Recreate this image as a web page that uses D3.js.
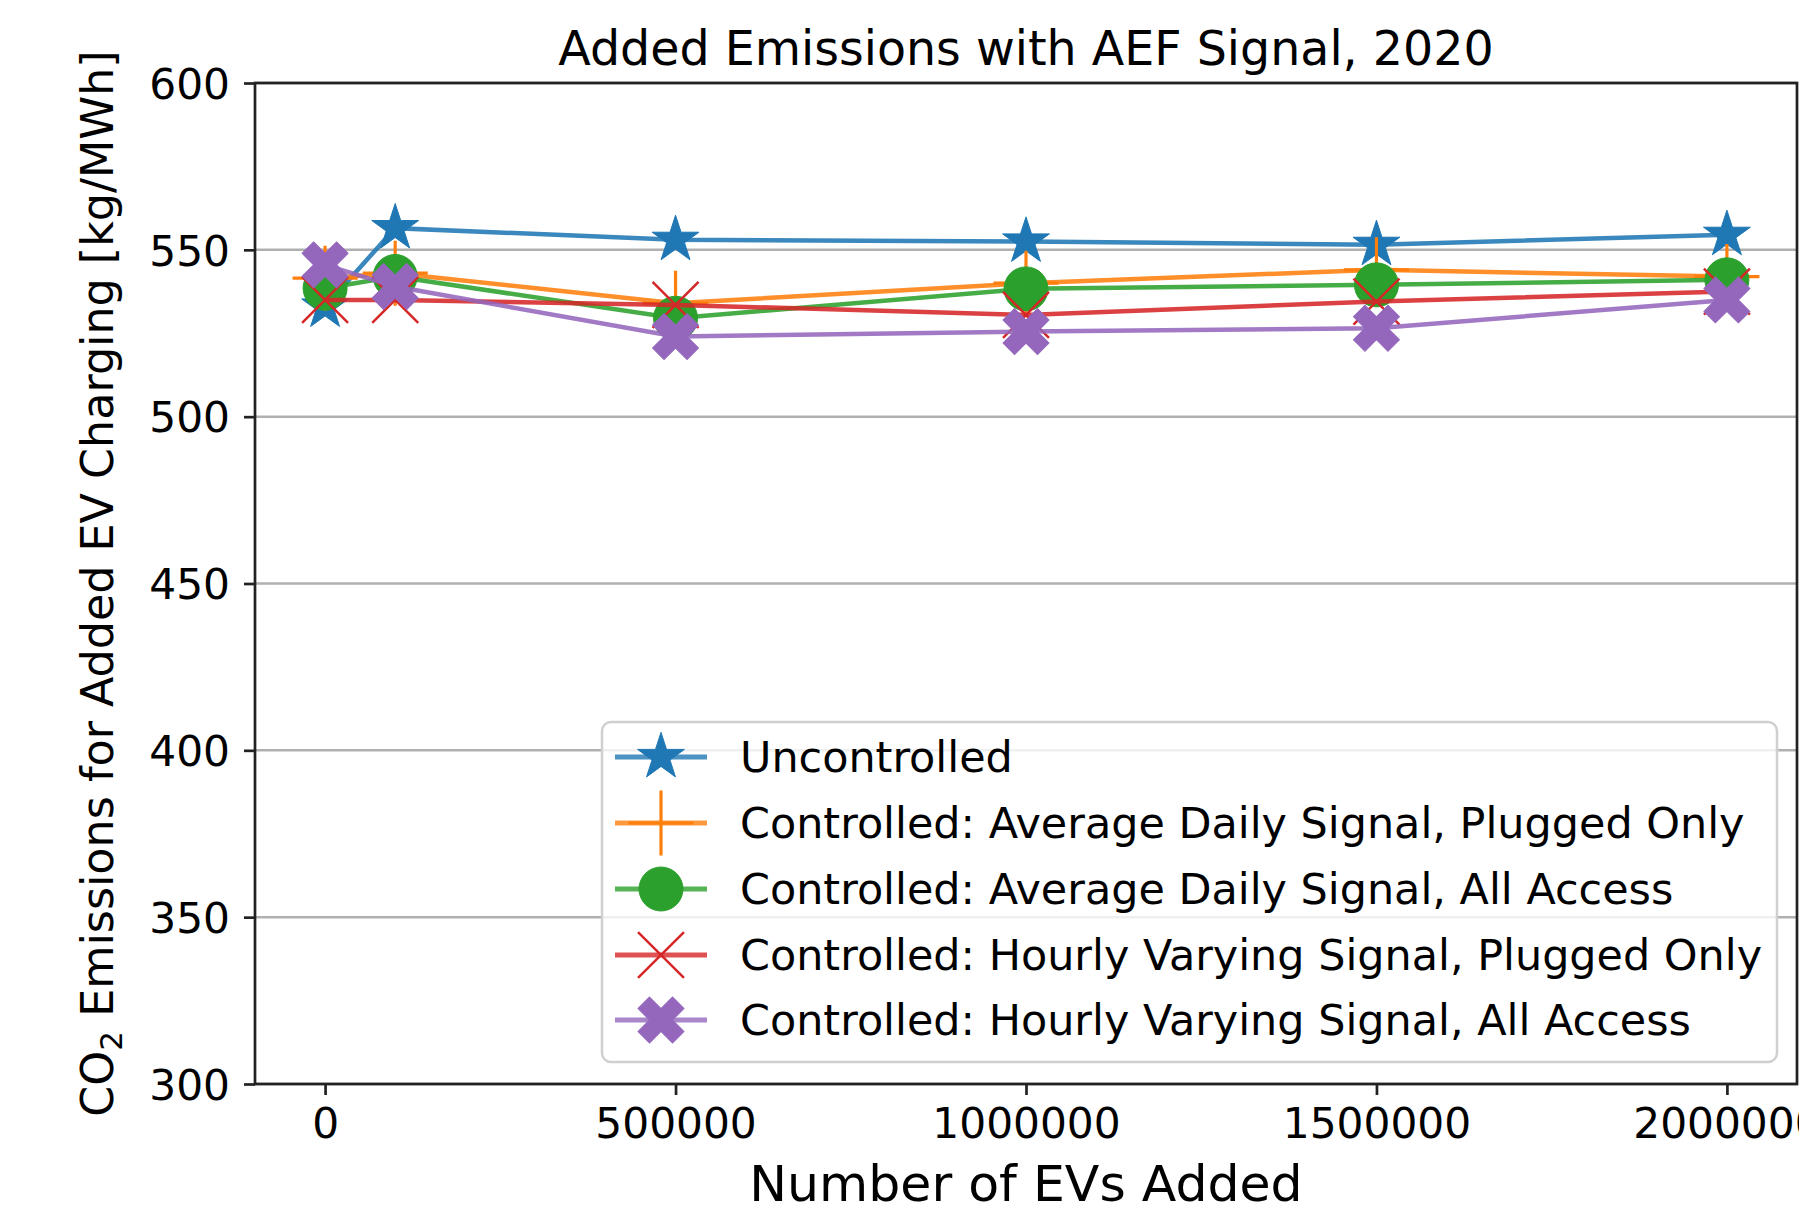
<!DOCTYPE html>
<html>
<head>
<meta charset="utf-8">
<script src="https://cdn.jsdelivr.net/npm/d3@7"></script>
<style>
  body { margin: 0; background: #fff; }
  text { font-family: "DejaVu Sans", sans-serif; fill: #000; }
</style>
</head>
<body>
<svg></svg>
<script>
// data
var evsAdded = [0, 100000, 500000, 1000000, 1500000, 2000000];
var uncontrolled = [533, 556.5, 553, 552.5, 551.5, 554.5];
var avgDailyPlugged = [541.5, 543, 534, 540, 544, 542];
var avgDailyAll = [538.5, 542, 529.5, 538.3, 539.5, 541];
var hourlyPlugged = [535, 535, 533.5, 530.5, 534.5, 537.5];
var hourlyAll = [545.5, 539, 524, 525.5, 526.5, 535];

var seriesNames = [
    "Uncontrolled",
    "Controlled: Average Daily Signal, Plugged Only",
    "Controlled: Average Daily Signal, All Access",
    "Controlled: Hourly Varying Signal, Plugged Only",
    "Controlled: Hourly Varying Signal, All Access"
];
var xTicks = [0, 500000, 1000000, 1500000, 2000000];
var yTicks = [300, 350, 400, 450, 500, 550, 600];

var colors = ["#1f77b4", "#ff7f0e", "#2ca02c", "#d62728", "#9467bd"];

var width = 1799;
var height = 1215;
var margin = {left: 255, right: 2, top: 83, bottom: 131};

var series = [uncontrolled, avgDailyPlugged, avgDailyAll, hourlyPlugged, hourlyAll].map(function(vals, i) {
    return {
        name: seriesNames[i],
        color: colors[i],
        points: vals.map((v, j) => ({x: evsAdded[j], y: v}))
    };
});

// marker shapes, filled ones use fill, thin ones use stroke
var markers = [
    {type: d3.symbolStar, size: 680, filled: true},
    {type: d3.symbolPlus, size: 1383, filled: false, sw: 3.2},
    {type: d3.symbolCircle, size: 1520, filled: true},
    {type: d3.symbolX, size: 1381, filled: false, sw: 2.5},
    {type: d3.symbolCross, size: 1322, filled: true, rotate: 45}
];

var svg = d3.select("svg")
    .attr("width", width)
    .attr("height", height);

var x = d3.scaleLinear()
    .domain([-100000, 2100000])
    .range([margin.left, width - margin.right]);

var y = d3.scaleLinear()
    .domain([300, 600])
    .range([height - margin.bottom, margin.top]);

// horizontal grid
svg.append("g")
    .selectAll("line")
    .data(yTicks)
    .enter()
    .append("line")
        .attr("x1", x.range()[0])
        .attr("x2", x.range()[1])
        .attr("y1", d => y(d))
        .attr("y2", d => y(d))
        .attr("stroke", "#b0b0b0")
        .attr("stroke-width", 2.5);

// axes
var xAxis = svg.append("g")
    .attr("transform", "translate(0," + y.range()[0] + ")")
    .call(d3.axisBottom(x).tickValues(xTicks).tickFormat(d3.format("d")).tickSize(11).tickPadding(10));

var yAxis = svg.append("g")
    .attr("transform", "translate(" + x.range()[0] + ",0)")
    .call(d3.axisLeft(y).tickValues(yTicks).tickSize(11).tickPadding(14));

[xAxis, yAxis].forEach(function(ax) {
    ax.select(".domain").remove();
    ax.selectAll(".tick line").attr("stroke", "#222").attr("stroke-width", 2.7);
    ax.selectAll(".tick text")
        .style("font-family", "DejaVu Sans")
        .style("font-size", "42.3px")
        .attr("fill", "#000");
});
xAxis.selectAll(".tick text").attr("dy", "0.78em");
yAxis.selectAll(".tick text").attr("dy", "0.36em");

// lines and markers, one series after another
var line = d3.line()
    .x(d => x(d.x))
    .y(d => y(d.y));

var symbolPath = function(m) {
    return d3.symbol().type(m.type).size(m.size)();
};

series.forEach(function(s, i) {
    var m = markers[i];
    var g = svg.append("g").classed("series", true);
    g.append("path")
        .attr("d", line(s.points))
        .attr("fill", "none")
        .attr("stroke", s.color)
        .attr("stroke-opacity", 0.88)
        .attr("stroke-width", 4.5);
    g.selectAll(".mark")
        .data(s.points)
        .enter()
        .append("path")
            .classed("mark", true)
            .attr("transform", d => "translate(" + x(d.x) + "," + y(d.y) + ")" + (m.rotate ? " rotate(" + m.rotate + ")" : ""))
            .attr("d", symbolPath(m))
            .attr("fill", m.filled ? s.color : "none")
            .attr("stroke", s.color)
            .attr("stroke-width", m.filled ? 1 : m.sw);
});

// plot frame
svg.append("rect")
    .attr("x", x.range()[0])
    .attr("y", y.range()[1])
    .attr("width", x.range()[1] - x.range()[0])
    .attr("height", y.range()[0] - y.range()[1])
    .attr("fill", "none")
    .attr("stroke", "#222")
    .attr("stroke-width", 2.7);

// title and axis labels
var cx = (x.range()[0] + x.range()[1]) / 2;

svg.append("text")
    .attr("x", cx)
    .attr("y", 65)
    .attr("text-anchor", "middle")
    .style("font-size", "47.5px")
    .text("Added Emissions with AEF Signal, 2020");

svg.append("text")
    .attr("x", cx)
    .attr("y", 1201)
    .attr("text-anchor", "middle")
    .style("font-size", "50.5px")
    .text("Number of EVs Added");

var yLabel = svg.append("text")
    .attr("transform", "translate(113," + (y.range()[0] + y.range()[1]) / 2 + ") rotate(-90)")
    .attr("text-anchor", "middle")
    .style("font-size", "44.4px");
yLabel.append("tspan").text("CO");
yLabel.append("tspan").attr("dy", "0.3em").style("font-size", "31px").text("2");
yLabel.append("tspan").attr("dy", "-0.21em").text(" Emissions for Added EV Charging [kg/MWh]");

// legend
var legendRows = [757, 823, 889, 955, 1020];
var legend = svg.append("g");

legend.append("rect")
    .attr("x", 602)
    .attr("y", 722)
    .attr("width", 1175)
    .attr("height", 340)
    .attr("rx", 9)
    .attr("fill", "#fff")
    .attr("fill-opacity", 0.8)
    .attr("stroke", "#d0d0d0")
    .attr("stroke-width", 2.5);

var items = legend.selectAll(".item")
    .data(series)
    .enter()
    .append("g")
        .classed("item", true)
        .attr("transform", (d, i) => "translate(0," + legendRows[i] + ")");

items.append("line")
    .attr("x1", 615)
    .attr("x2", 707)
    .attr("stroke", d => d.color)
    .attr("stroke-opacity", 0.8)
    .attr("stroke-width", 5);

items.append("path")
    .attr("transform", (d, i) => "translate(661,0)" + (markers[i].rotate ? " rotate(" + markers[i].rotate + ")" : ""))
    .attr("d", (d, i) => symbolPath(markers[i]))
    .attr("fill", (d, i) => markers[i].filled ? d.color : "none")
    .attr("stroke", d => d.color)
    .attr("stroke-width", (d, i) => markers[i].filled ? 1 : markers[i].sw);

items.append("text")
    .attr("x", 740)
    .attr("dy", "0.36em")
    .style("font-size", "42.9px")
    .text(d => d.name);
</script>
</body>
</html>
